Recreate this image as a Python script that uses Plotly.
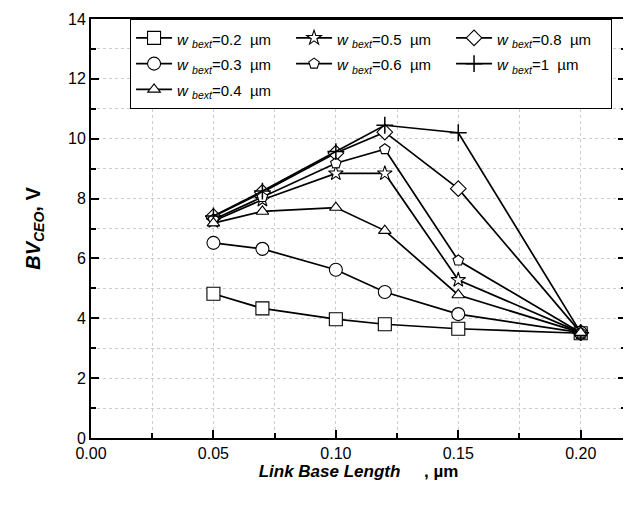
import plotly.graph_objects as go

# link base length, um
x_len = [0.05, 0.07, 0.10, 0.12, 0.15, 0.20]

# BVceo values (V) for each w_bext
bv_02 = [4.82, 4.33, 3.97, 3.80, 3.65, 3.50]
bv_03 = [6.52, 6.32, 5.62, 4.88, 4.14, 3.52]
bv_04 = [7.18, 7.57, 7.70, 6.93, 4.78, 3.52]
bv_05 = [7.25, 7.96, 8.84, 8.84, 5.28, 3.52]
bv_06 = [7.30, 8.05, 9.18, 9.65, 5.93, 3.52]
bv_08 = [7.40, 8.21, 9.52, 10.22, 8.33, 3.52]
bv_10 = [7.42, 8.25, 9.57, 10.45, 10.20, 3.52]

# legend row-wise order: (label, data, symbol, size)
series = [
    ('0.2', bv_02, 'square', 13),
    ('0.5', bv_05, 'star', 11),
    ('0.8', bv_08, 'diamond', 12),
    ('0.3', bv_03, 'circle', 13),
    ('0.6', bv_06, 'pentagon', 11),
    ('1', bv_10, 'cross-thin-open', 12),
    ('0.4', bv_04, 'triangle-up', 11),
]

fig = go.Figure()
for lab, vals, sym, sz in series:
    thin = 'thin' in sym
    fig.add_trace(go.Scatter(
        x=x_len, y=vals, mode='lines+markers',
        name=('<span style="font-size:15px"><i>w</i> <sub><i>bext</i></sub>='
              + lab + '  \u00b5m</span>'),
        line=dict(color='black', width=1.7),
        marker=dict(symbol=sym, size=sz, color='black' if thin else 'white',
                    line=dict(color='black', width=1.5 if thin else 1.1)),
    ))

axis_font = dict(family='Liberation Sans, Arial', size=16, color='black')

# page body has an 8px margin, so the figure is a bit smaller than the window
fig.update_layout(
    width=623, height=502,
    margin=dict(l=83, r=3, t=6, b=72),
    plot_bgcolor='white', paper_bgcolor='white',
    font=axis_font,
    showlegend=True,
    legend=dict(
        orientation='h', x=0.073, y=1.0, xanchor='left', yanchor='top',
        entrywidth=109, bgcolor='white', bordercolor='black', borderwidth=1,
        font=dict(family='Liberation Sans, Arial', size=17.5, color='black'),
        tracegroupgap=0, itemwidth=36,
    ),
    xaxis=dict(
        range=[0, 0.2185], dtick=0.05, tickformat='.2f',
        ticks='inside', ticklen=8, tickwidth=1.5, tickcolor='black',
        showline=True, linecolor='black', linewidth=2, mirror='ticks',
        showgrid=True, gridcolor='#cccccc', griddash='dot', gridwidth=1,
        minor=dict(dtick=0.025, ticks='inside', ticklen=5, tickcolor='black',
                   showgrid=True, gridcolor='#cccccc', griddash='dot'),
        zeroline=False, ticklabeloverflow='allow',
        title=dict(text='<b><i>Link Base Length</i></b>     <b>, \u00b5m</b>',
                   font=dict(family='Liberation Sans, Arial', size=17), standoff=0),
    ),
    yaxis=dict(
        range=[0, 14], dtick=2,
        ticks='inside', ticklen=8, tickwidth=1.5, tickcolor='black',
        showline=True, linecolor='black', linewidth=2, mirror='ticks',
        showgrid=True, gridcolor='#cccccc', griddash='dot', gridwidth=1,
        minor=dict(dtick=1, ticks='inside', ticklen=5, tickcolor='black',
                   showgrid=True, gridcolor='#cccccc', griddash='dot'),
        zeroline=False, ticklabeloverflow='allow',
        title=dict(text='<b><i>BV</i></b><sub><b><i>CEO</i></b></sub><b>, V</b>',
                   font=dict(family='Liberation Sans, Arial', size=20), standoff=22),
    ),
)

fig.write_html('out.html')
